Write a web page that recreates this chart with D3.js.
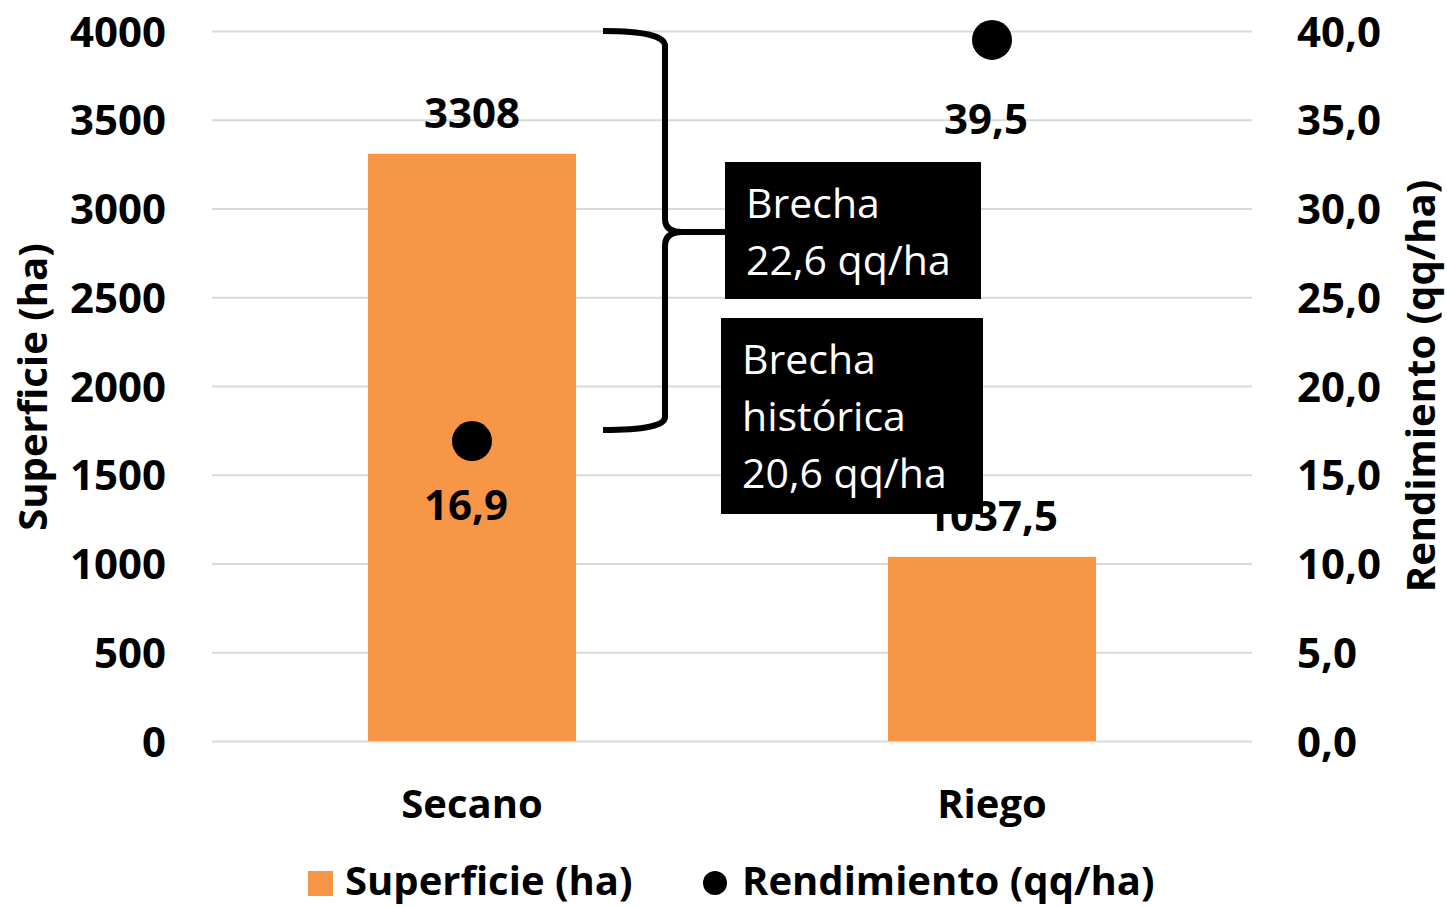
<!DOCTYPE html>
<html>
<head>
<meta charset="utf-8">
<script src="https://cdn.jsdelivr.net/npm/d3@7"></script>
<style>
  body { margin: 0; background: #fff; }
  text { font-family: 'Open Sans', sans-serif; }
</style>
</head>
<body>
<svg></svg>
<script>
const width = 1447;
const height = 907;

// data
const categories = ['Secano', 'Riego'];
const superficie = [3308, 1037.5];
const rendimiento = [16.9, 39.5];
const leftTicks = [0, 500, 1000, 1500, 2000, 2500, 3000, 3500, 4000];
const rightTicks = [0, 5, 10, 15, 20, 25, 30, 35, 40];
const supLabels = ['3308', '1037,5'];
const rendLabels = ['16,9', '39,5'];

const plotLeft = 212, plotRight = 1252, plotTop = 31, plotBottom = 741;
const orange = '#F79646';

const svg = d3.select('svg')
    .attr('width', width)
    .attr('height', height);

svg.append('rect').attr('width', width).attr('height', height).attr('fill', '#fff');

const x = d3.scaleBand().domain(categories).range([plotLeft, plotRight]);
const yL = d3.scaleLinear().domain([0, 4000]).range([plotBottom, plotTop]);
const yR = d3.scaleLinear().domain([0, 40]).range([plotBottom, plotTop]);

// gridlines
svg.append('g')
    .attr('transform', `translate(${plotLeft},0)`)
    .call(d3.axisLeft(yL).tickValues(leftTicks).tickSize(-(plotRight - plotLeft)).tickFormat(''))
    .call(g => g.select('.domain').remove())
    .call(g => g.selectAll('line').attr('stroke', '#d9d9d9').attr('stroke-width', 2));

// left axis
svg.append('g')
    .attr('transform', `translate(${plotLeft},0)`)
    .call(d3.axisLeft(yL).tickValues(leftTicks).tickSize(0).tickPadding(46).tickFormat(d3.format('d')))
    .call(g => g.select('.domain').remove())
    .call(g => g.selectAll('text')
        .attr('font-family', "'Open Sans', sans-serif")
        .attr('font-size', 42).attr('font-weight', 'bold').attr('fill', '#000')
        .attr('dy', '0.36em'));

// right axis
svg.append('g')
    .attr('transform', `translate(${plotRight},0)`)
    .call(d3.axisRight(yR).tickValues(rightTicks).tickSize(0).tickPadding(45)
        .tickFormat(d => d.toFixed(1).replace('.', ',')))
    .call(g => g.select('.domain').remove())
    .call(g => g.selectAll('text')
        .attr('font-family', "'Open Sans', sans-serif")
        .attr('font-size', 42).attr('font-weight', 'bold').attr('fill', '#000')
        .attr('dy', '0.36em'));

// category axis
svg.append('g')
    .attr('transform', `translate(0,${plotBottom})`)
    .call(d3.axisBottom(x).tickSize(0).tickPadding(48))
    .call(g => g.select('.domain').remove())
    .call(g => g.selectAll('text')
        .attr('font-family', "'Open Sans', sans-serif")
        .attr('font-size', 40).attr('font-weight', 'bold').attr('fill', '#000')
        .attr('dy', '0.72em'));

// bars
const barW = x.bandwidth() * 0.4;
svg.selectAll('.bar')
    .data(categories)
    .enter()
    .append('rect')
    .attr('class', 'bar')
    .attr('x', d => x(d) + x.bandwidth() / 2 - barW / 2)
    .attr('y', (d, i) => yL(superficie[i]))
    .attr('width', barW)
    .attr('height', (d, i) => plotBottom - yL(superficie[i]))
    .attr('fill', orange);

svg.selectAll('.barlabel')
    .data(categories)
    .enter()
    .append('text')
    .attr('class', 'barlabel')
    .attr('x', d => x(d) + x.bandwidth() / 2)
    .attr('y', (d, i) => yL(superficie[i]) - 26)
    .attr('text-anchor', 'middle')
    .attr('font-size', 42).attr('font-weight', 'bold')
    .text((d, i) => supLabels[i]);

// points
svg.selectAll('.dot')
    .data(categories)
    .enter()
    .append('circle')
    .attr('class', 'dot')
    .attr('cx', d => x(d) + x.bandwidth() / 2)
    .attr('cy', (d, i) => yR(rendimiento[i]))
    .attr('r', 20)
    .attr('fill', '#000');

const dotLabelOffset = [79, 94];
svg.selectAll('.dotlabel')
    .data(categories)
    .enter()
    .append('text')
    .attr('class', 'dotlabel')
    .attr('x', d => x(d) + x.bandwidth() / 2 - 6)
    .attr('y', (d, i) => yR(rendimiento[i]) + dotLabelOffset[i])
    .attr('text-anchor', 'middle')
    .attr('font-size', 42).attr('font-weight', 'bold')
    .text((d, i) => rendLabels[i]);

// brace
svg.append('path')
    .attr('d', 'M603,31 Q665,31 665,46 L665,219 Q665,232 682,232 L725,232 M682,232 Q665,232 665,246 L665,417 Q665,430 603,430')
    .attr('fill', 'none')
    .attr('stroke', '#000')
    .attr('stroke-width', 6);

// annotation boxes
function box(x0, y0, w, h, lines, tx, baselines) {
    svg.append('rect').attr('x', x0).attr('y', y0).attr('width', w).attr('height', h).attr('fill', '#000');
    lines.forEach((l, i) => {
        svg.append('text')
            .attr('x', tx).attr('y', baselines[i])
            .attr('font-size', 41).attr('fill', '#fff')
            .text(l);
    });
}
box(725, 162, 256, 137, ['Brecha', '22,6 qq/ha'], 746, [218, 275]);
box(721, 318, 262, 196, ['Brecha', 'histórica', '20,6 qq/ha'], 742, [374, 431, 488]);

// axis titles
svg.append('text')
    .attr('transform', 'translate(47,387) rotate(-90)')
    .attr('text-anchor', 'middle')
    .attr('font-size', 40).attr('font-weight', 'bold')
    .text('Superficie (ha)');

svg.append('text')
    .attr('transform', 'translate(1435,386) rotate(-90)')
    .attr('text-anchor', 'middle')
    .attr('font-size', 40).attr('font-weight', 'bold')
    .text('Rendimiento (qq/ha)');

// legend
const legend = svg.append('g');
legend.append('rect').attr('x', 308).attr('y', 871).attr('width', 25).attr('height', 25).attr('fill', orange);
legend.append('text').attr('x', 345).attr('y', 895)
    .attr('font-size', 40).attr('font-weight', 'bold').text('Superficie (ha)');
legend.append('circle').attr('cx', 715).attr('cy', 883).attr('r', 12).attr('fill', '#000');
legend.append('text').attr('x', 742).attr('y', 895)
    .attr('font-size', 40).attr('font-weight', 'bold').text('Rendimiento (qq/ha)');
</script>
</body>
</html>
